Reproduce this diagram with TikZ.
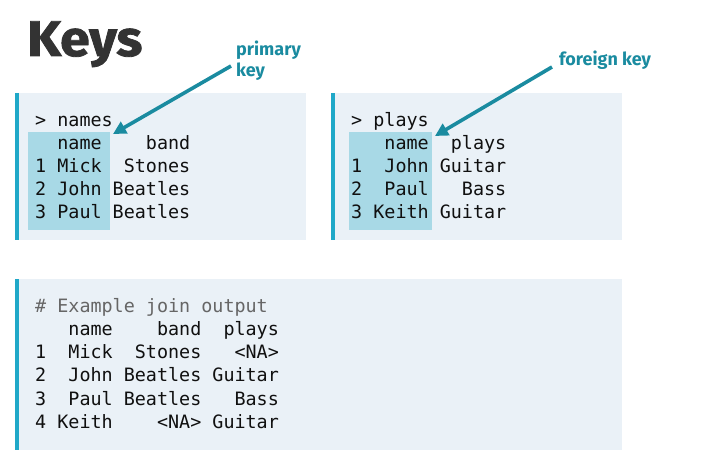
\documentclass[tikz,border=0pt]{standalone}
\usepackage{fontspec}
\usetikzlibrary{arrows.meta}
\newfontfamily\firafont{Fira Sans}
\newfontfamily\firaheavy[FakeBold=1.6]{Fira Sans Bold}
\newfontfamily\monofont{DejaVu Sans Mono}
\definecolor{boxbg}{HTML}{EAF1F7}
\definecolor{boxbar}{HTML}{1FA8C8}
\definecolor{keyhl}{HTML}{A8D9E6}
\definecolor{teal}{HTML}{1A8BA0}
\definecolor{titlegray}{HTML}{333333}
\definecolor{codeink}{HTML}{101010}
\definecolor{commentgray}{HTML}{666666}
\tikzset{
  code/.style={anchor=base west, inner sep=0pt, text=codeink,
    font=\monofont\fontsize{18.4bp}{23bp}\selectfont},
  comment/.style={code, text=commentgray},
  keylabel/.style={anchor=base west, inner sep=0pt, text=teal,
    font=\firafont\bfseries\fontsize{18bp}{21bp}\selectfont},
  keyarrow/.style={draw=teal, line width=3.6bp,
    -{Triangle[length=13bp,width=13bp]}},
}
\begin{document}
\begin{tikzpicture}[x=1bp,y=-1bp]
\useasboundingbox (0,0) rectangle (702,471);
% title
\node[anchor=base west, inner sep=0pt, text=titlegray,
  font=\firaheavy\fontsize{50bp}{50bp}\selectfont] (title) at (27,56) {\scalebox{1.07}[1]{Keys}};
% boxes
\fill[boxbg] (15,93) rectangle (306,240.5);
\fill[boxbar] (15,93) rectangle (19,240.5);
\fill[boxbg] (331,93) rectangle (622,240.5);
\fill[boxbar] (331,93) rectangle (335,240.5);
\fill[boxbg] (15,279) rectangle (622,450);
\fill[boxbar] (15,279) rectangle (19,450);
% key highlights
\fill[keyhl] (28,132) rectangle (110,230);
\fill[keyhl] (349,132) rectangle (432,230);
% names table
\node[code] (a0) at (35,127) {>~names};
\node[code] (a1) at (35,150) {~~name~~~~band};
\node[code] (a2) at (35,173) {1~Mick~~Stones};
\node[code] (a3) at (35,196) {2~John~Beatles};
\node[code] (a4) at (35,219) {3~Paul~Beatles};
% plays table
\node[code] (b0) at (351,127) {>~plays};
\node[code] (b1) at (351,150) {~~~name~~plays};
\node[code] (b2) at (351,173) {1~~John~Guitar};
\node[code] (b3) at (351,196) {2~~Paul~~~Bass};
\node[code] (b4) at (351,219) {3~Keith~Guitar};
% join output
\node[comment] (c0) at (35,312.5) {\#~Example~join~output};
\node[code] (c1) at (35,335.7) {~~~name~~~~band~~plays};
\node[code] (c2) at (35,358.8) {1~~Mick~~Stones~~~<NA>};
\node[code] (c3) at (35,381.9) {2~~John~Beatles~Guitar};
\node[code] (c4) at (35,405) {3~~Paul~Beatles~~~Bass};
\node[code] (c5) at (35,428.1) {4~Keith~~~~<NA>~Guitar};
% labels
\node[keylabel] (pk1) at (236,56) {primary};
\node[keylabel] (pk2) at (236,77) {key};
\node[keylabel] (fk) at (559,66) {foreign key};
% arrows
\coordinate (ps) at (231,66);
\coordinate (pt) at (113,134);
\coordinate (fs) at (552,67);
\coordinate (ft) at (435,136);
\draw[keyarrow] (ps) -- (pt);
\draw[keyarrow] (fs) -- (ft);
\end{tikzpicture}
\end{document}
